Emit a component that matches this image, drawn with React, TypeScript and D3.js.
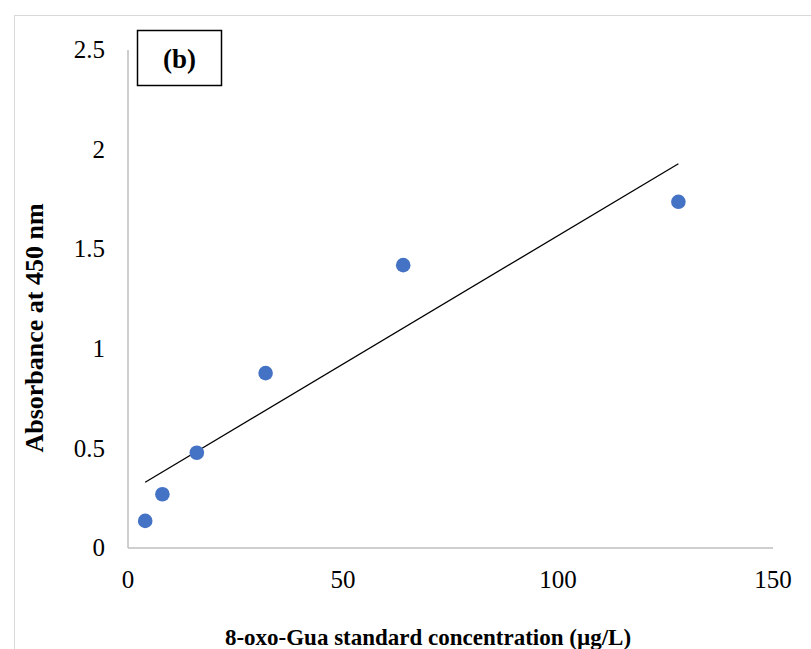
import * as d3 from "d3";
import React, { useEffect, useRef } from "react";

// 8-oxo-Gua standard curve
const concentrations = [4, 8, 16, 32, 64, 128];
const absorbances = [0.136, 0.27, 0.478, 0.878, 1.42, 1.738];
const xTicks = [0, 50, 100, 150];
const yTicks = [0, 0.5, 1, 1.5, 2, 2.5];

const App = () => {
  const svgRef = useRef(null);

  useEffect(() => {
    const svg = d3.select(svgRef.current);
    svg.selectAll("*").remove();

    const font = "'Liberation Serif', 'Times New Roman', serif";
    const axisColor = "#bfbfbf";

    // outer chart frame
    svg
      .append("rect")
      .attr("x", 14.5)
      .attr("y", 15.5)
      .attr("width", 820)
      .attr("height", 680)
      .attr("fill", "#fff")
      .attr("stroke", "#d9d9d9");

    const xScale = d3.scaleLinear().domain([0, 150]).range([128, 773]);
    const yScale = d3.scaleLinear().domain([0, 2.5]).range([548, 50]);

    // axis lines
    svg
      .append("line")
      .attr("x1", xScale(0))
      .attr("x2", xScale(0))
      .attr("y1", yScale(0))
      .attr("y2", yScale(2.5))
      .attr("stroke", axisColor)
      .attr("stroke-width", 1.5);
    svg
      .append("line")
      .attr("x1", xScale(0))
      .attr("x2", xScale(150))
      .attr("y1", yScale(0))
      .attr("y2", yScale(0))
      .attr("stroke", axisColor)
      .attr("stroke-width", 1.5);

    // tick labels
    svg
      .selectAll(".ytick")
      .data(yTicks)
      .enter()
      .append("text")
      .attr("x", 105)
      .attr("y", (d) => yScale(d))
      .attr("dy", "0.33em")
      .attr("text-anchor", "end")
      .attr("font-family", font)
      .attr("font-size", 25)
      .text((d) => String(d));

    svg
      .selectAll(".xtick")
      .data(xTicks)
      .enter()
      .append("text")
      .attr("x", (d) => xScale(d))
      .attr("y", 588)
      .attr("text-anchor", "middle")
      .attr("font-family", font)
      .attr("font-size", 25)
      .text((d) => String(d));

    // linear trendline (least squares)
    const n = concentrations.length;
    const mx = d3.mean(concentrations);
    const my = d3.mean(absorbances);
    let sxy = 0;
    let sxx = 0;
    for (let i = 0; i < n; i++) {
      sxy += (concentrations[i] - mx) * (absorbances[i] - my);
      sxx += (concentrations[i] - mx) ** 2;
    }
    const slope = sxy / sxx;
    const intercept = my - slope * mx;
    const x0 = d3.min(concentrations);
    const x1 = d3.max(concentrations);
    svg
      .append("line")
      .attr("x1", xScale(x0))
      .attr("y1", yScale(intercept + slope * x0))
      .attr("x2", xScale(x1))
      .attr("y2", yScale(intercept + slope * x1))
      .attr("stroke", "#000")
      .attr("stroke-width", 1.3);

    // points
    svg
      .selectAll(".pt")
      .data(concentrations)
      .enter()
      .append("circle")
      .attr("cx", (d) => xScale(d))
      .attr("cy", (d, i) => yScale(absorbances[i]))
      .attr("r", 7.3)
      .attr("fill", "#4472c4");

    // (b) panel box
    svg
      .append("rect")
      .attr("x", 137.5)
      .attr("y", 30.5)
      .attr("width", 84)
      .attr("height", 55)
      .attr("fill", "#fff")
      .attr("stroke", "#000")
      .attr("stroke-width", 1.5);
    svg
      .append("text")
      .attr("x", 179.5)
      .attr("y", 59)
      .attr("dy", "0.35em")
      .attr("text-anchor", "middle")
      .attr("font-family", font)
      .attr("font-weight", "bold")
      .attr("font-size", 27)
      .text("(b)");

    // axis titles
    svg
      .append("text")
      .attr("transform", "translate(43,328) rotate(-90)")
      .attr("text-anchor", "middle")
      .attr("font-family", font)
      .attr("font-weight", "bold")
      .attr("font-size", 26)
      .text("Absorbance at 450 nm");

    svg
      .append("text")
      .attr("x", 428)
      .attr("y", 645)
      .attr("text-anchor", "middle")
      .attr("font-family", font)
      .attr("font-weight", "bold")
      .attr("font-size", 23)
      .text("8-oxo-Gua standard concentration (µg/L)");
  }, []);

  return (
    <svg
      ref={svgRef}
      width={811}
      height={649}
      style={{ position: "absolute", left: 0, top: 0, background: "#fff" }}
    ></svg>
  );
};

export default App;
